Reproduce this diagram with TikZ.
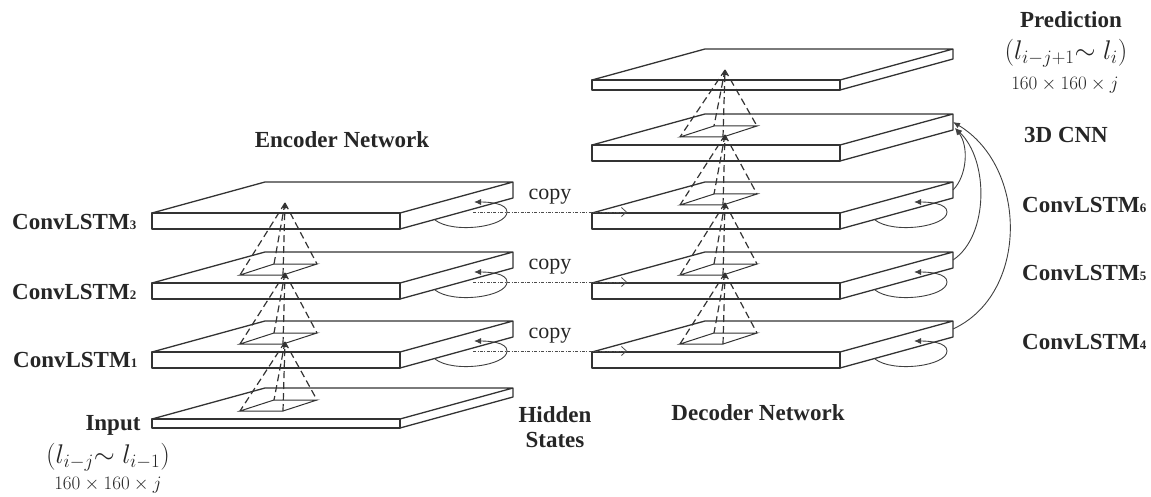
\documentclass[tikz,border=0pt]{standalone}
\usepackage{fix-cm}
\usepackage{fontspec}
\setmainfont{Liberation Serif}
\usetikzlibrary{arrows.meta,calc}
\newcommand{\lstm}[1]{ConvLSTM{\fontsize{13}{13}\selectfont #1}}
\begin{document}
\begin{tikzpicture}[x=1pt, y=-1pt,
    slab/.style={draw=black!80, line width=1.3pt, line join=round},
    cone/.style={draw=black!80, line width=1.2pt, dash pattern=on 7pt off 4pt},
    base/.style={draw=black!80, line width=1pt},
    recur/.style={draw=black!75, line width=0.9pt, -{Latex[length=7pt,width=6pt]}},
    copyline/.style={draw=black!70, line width=0.8pt, dash pattern=on 3pt off 1.5pt on 0.8pt off 1.5pt, -{Straight Barb[length=5pt,width=9pt]}},
    feed/.style={draw=black!75, line width=0.9pt, -{Latex[length=7pt,width=6pt]}},
    title/.style={font=\fontsize{23}{25}\selectfont\bfseries, text=black!85, inner sep=0pt},
    plain/.style={font=\fontsize{22}{26}\selectfont, text=black!85, inner sep=0pt},
    maths/.style={font=\fontsize{27}{30}\selectfont, text=black!85, inner sep=0pt},
    small/.style={font=\fontsize{19}{22}\selectfont, text=black!85, inner sep=0pt}]
  \useasboundingbox (0,0) rectangle (1151,497);
  % layers: name / front corner / thickness
  \foreach \n/\px/\py/\tk in {lstm3/152/213/16, lstm2/152/283/16, lstm1/152/352/16, input/152/419/9,
      pred/592/80/10, cnn/592/145/16, lstm6/592/213/16, lstm5/592/283/16, lstm4/592/352/16} {
    \coordinate (\n) at (\px,\py);
    \coordinate (\n-apex) at (\px+133,\py-10);
    \coordinate (\n-base) at (\px+88,\py-8);
    \coordinate (\n-loop) at (\px+283,\py+7);
    \coordinate (\n-side) at (\px+355,\py-1);
    \coordinate (\n-tip) at (\px+322,\py-11);
    \coordinate (\n-out) at (\px+321,\py-1);
    \coordinate (\n-in) at (\px+35,\py-1);
    \coordinate (\n-edge) at (\px+361,\py-31+\tk/2);
    \draw[slab] (\n) rectangle ++(248,\tk);
    \draw[slab] (\n) -- ++(113,-31) -- ++(248,0) -- ++(-113,31)
      ++(113,-31) -- ++(0,\tk) -- ++(-113,31);
  }
  % receptive fields
  \foreach \up/\dn in {lstm3/lstm2, lstm2/lstm1, lstm1/input, pred/cnn, cnn/lstm6, lstm6/lstm5, lstm5/lstm4} {
    \draw[base] (\dn-base) -- ++(43,0) -- ++(34,-11) -- ++(-43,0) -- cycle;
    \draw[cone] (\up-apex) -- (\dn-base)
      (\up-apex) -- ($(\dn-base)+(77,-11)$)
      (\up-apex) -- ($(\dn-base)+(34,-11)$);
    \draw[cone, -{Latex[length=5pt,width=5pt]}] ($(\dn-base)+(43,0)$) -- (\up-apex);
  }
  % recurrent loops
  \foreach \n in {lstm1, lstm2, lstm3, lstm4, lstm5, lstm6}
    \draw[recur] (\n-loop) .. controls +(18,14) and +(0,15) .. (\n-side)
      .. controls +(0,-9) and +(14,0) .. (\n-tip);
  % copy to decoder
  \foreach \e/\d in {lstm3/lstm6, lstm2/lstm5, lstm1/lstm4}
    \draw[copyline] (\e-out) -- node[plain, above=7pt] (copy-\e) {copy} (\d-in);
  % into the 3D CNN
  \coordinate (cnn-low) at ($(cnn-edge)+(2,6)$);
  \draw[feed] (lstm6-edge) .. controls +(14,-14) and +(14,18) .. (cnn-low);
  \draw[feed] (lstm5-edge) .. controls +(36,-24) and +(34,32) .. (cnn-low);
  \draw[feed] (lstm4-edge) .. controls +(76,-35) and +(75,45) .. (cnn-edge);
  % labels
  \node[title] (enc) at (342,140) {Encoder Network};
  \node[title] (dec) at (758,413) {Decoder Network};
  \node[title, align=center] (hid) at (555,427) {Hidden\\States};
  \node[title] (predlbl) at (1071,20) {Prediction};
  \node[maths] (predrange) at (1066,53) {$(l_{i-j+1}{\sim}\;l_i)$};
  \node[small] (predsize) at (1065,85) {$160\times160\times j$};
  \node[title] (cnnlbl) at (1066,135) {3D CNN};
  \node[title, anchor=west] (l6) at (1022,205) {\lstm{6}};
  \node[title, anchor=west] (l5) at (1022,273) {\lstm{5}};
  \node[title, anchor=west] (l4) at (1022,342) {\lstm{4}};
  \node[title, anchor=west] (l3) at (12,222) {\lstm{3}};
  \node[title, anchor=west] (l2) at (12,292) {\lstm{2}};
  \node[title, anchor=west] (l1) at (13,360) {\lstm{1}};
  \node[title] (inlbl) at (113,425) {Input};
  \node[maths] (inrange) at (108,457) {$(l_{i-j}{\sim}\;l_{i-1})$};
  \node[small] (insize) at (108,485) {$160\times160\times j$};
\end{tikzpicture}
\end{document}
